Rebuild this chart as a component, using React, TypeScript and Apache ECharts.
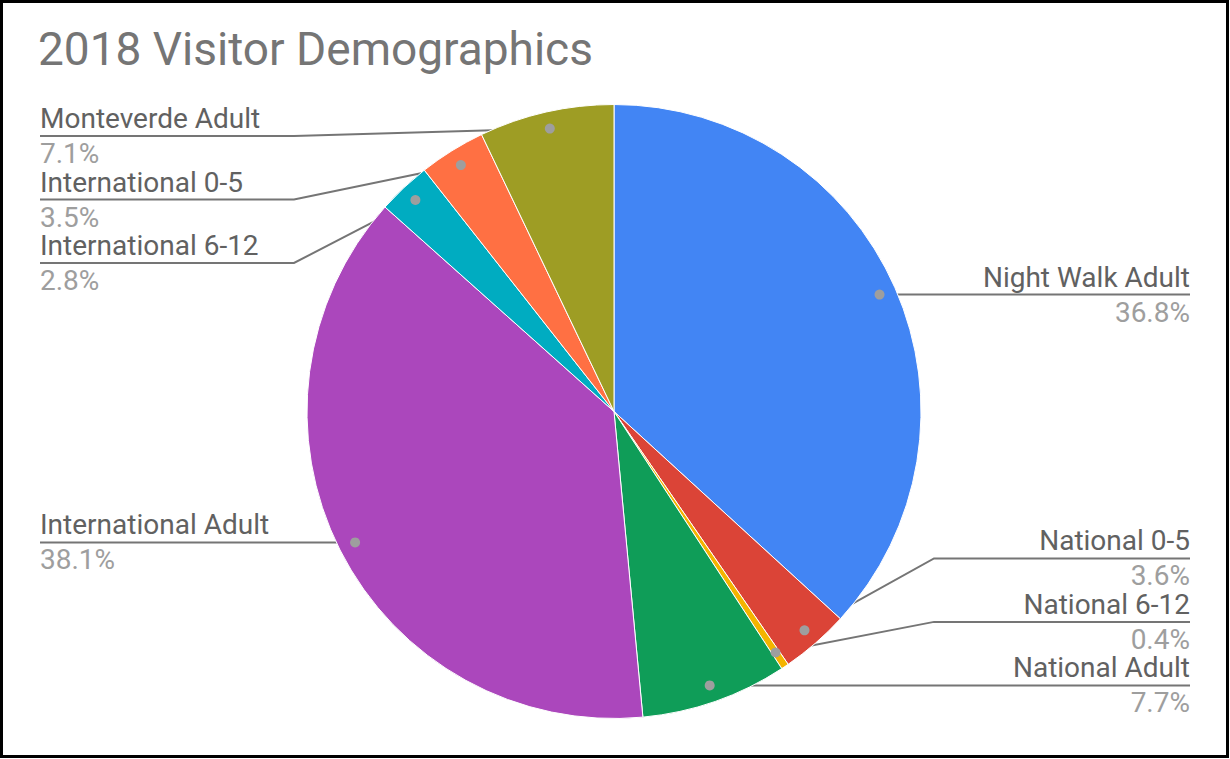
import React, { useEffect, useRef } from "react";
import * as echarts from "echarts";

const categories = [
  "Night Walk Adult",
  "National 0-5",
  "National 6-12",
  "National Adult",
  "International Adult",
  "International 6-12",
  "International 0-5",
  "Monteverde Adult",
];
const values = [36.8, 3.6, 0.4, 7.7, 38.1, 2.8, 3.5, 7.1];
const colors = ["#4285F4", "#DB4437", "#F4B400", "#0F9D58", "#AB47BC", "#00ACC1", "#FF7043", "#9E9D24"];

const W = 1230;
const H = 759;
const CX = 614;
const CY = 411.5;
const R = 307;
const DOT_R = 0.945 * R;
const ELBOW = 320;
const LEFT_X = 40;
const RIGHT_X = 1190;
const GAP = 63.5;
const MIN_LINE_Y = 136;

type Item = { i: number; dotX: number; dotY: number; right: boolean; lineY: number };

function computeLayout(): Item[] {
  const total = values.reduce((a, b) => a + b, 0);
  let cum = 0;
  const items: Item[] = values.map((v, i) => {
    const mid = ((cum + v / 2) / total) * 2 * Math.PI;
    cum += v;
    const dx = Math.sin(mid);
    const dy = -Math.cos(mid);
    return { i, dotX: CX + DOT_R * dx, dotY: CY + DOT_R * dy, right: dx >= 0, lineY: 0 };
  });
  const left = items.filter((d) => !d.right).sort((a, b) => a.dotY - b.dotY);
  let prev = -Infinity;
  left.forEach((d) => {
    d.lineY = Math.max(d.dotY, prev + GAP, MIN_LINE_Y);
    prev = d.lineY;
  });
  const right = items.filter((d) => d.right).sort((a, b) => b.dotY - a.dotY);
  prev = Infinity;
  right.forEach((d) => {
    d.lineY = Math.min(d.dotY, prev - GAP);
    prev = d.lineY;
  });
  return items;
}

export default function App() {
  const ref = useRef<HTMLDivElement>(null);
  useEffect(() => {
    document.body.style.margin = "0";
    if (!ref.current) return;
    const chart = echarts.init(ref.current, null, { renderer: "svg" });
    const layout = computeLayout();
    const font = "Roboto, 'Noto Sans', sans-serif";
    chart.setOption({
      animation: false,
      backgroundColor: "#ffffff",
      title: {
        text: "2018 Visitor Demographics",
        left: 38,
        top: 26,
        padding: 0,
        textStyle: { fontSize: 46, fontWeight: "normal", color: "#757575", fontFamily: font },
      },
      graphic: [
        {
          type: "rect",
          shape: { x: 1.5, y: 1.5, width: 1226, height: 755 },
          style: { fill: "none", stroke: "#000", lineWidth: 3 },
          z: 200,
        },
        ...layout.map((d) => ({
          type: "circle",
          shape: { cx: d.dotX, cy: d.dotY, r: 5 },
          style: { fill: "#9e9e9e" },
          z: 150,
        })),
      ],
      series: [
        {
          type: "pie",
          center: [CX, CY],
          radius: R,
          startAngle: 90,
          clockwise: true,
          avoidLabelOverlap: false,
          emphasis: { disabled: true },
          itemStyle: { borderColor: "#ffffff", borderWidth: 1 },
          data: categories.map((name, i) => ({
            name,
            value: values[i],
            itemStyle: { color: colors[i] },
          })),
          label: {
            show: true,
            position: "outside",
            formatter: (p: any) => `{n|${p.name}}\n{p|${Number(p.value).toFixed(1)}%}`,
            rich: {
              n: { fontSize: 28, color: "#616161", fontFamily: font, lineHeight: 35 },
              p: { fontSize: 28, color: "#9e9e9e", fontFamily: font, lineHeight: 35 },
            },
          },
          labelLine: {
            show: true,
            showAbove: true,
            smooth: false,
            lineStyle: { color: "#757575", width: 2 },
          },
          labelLayout: (params: any) => {
            const d = layout[params.dataIndex];
            const endX = d.right ? RIGHT_X : LEFT_X;
            const elbowX = d.right ? CX + ELBOW : CX - ELBOW;
            return {
              x: endX,
              y: d.lineY,
              align: d.right ? "right" : "left",
              verticalAlign: "middle",
              labelLinePoints: [
                [d.dotX, d.dotY],
                [elbowX, d.lineY],
                [endX, d.lineY],
              ],
            };
          },
        },
      ],
    });
    return () => chart.dispose();
  }, []);
  return <div ref={ref} style={{ width: W, height: H, position: "absolute", left: 0, top: 0 }} />;
}
